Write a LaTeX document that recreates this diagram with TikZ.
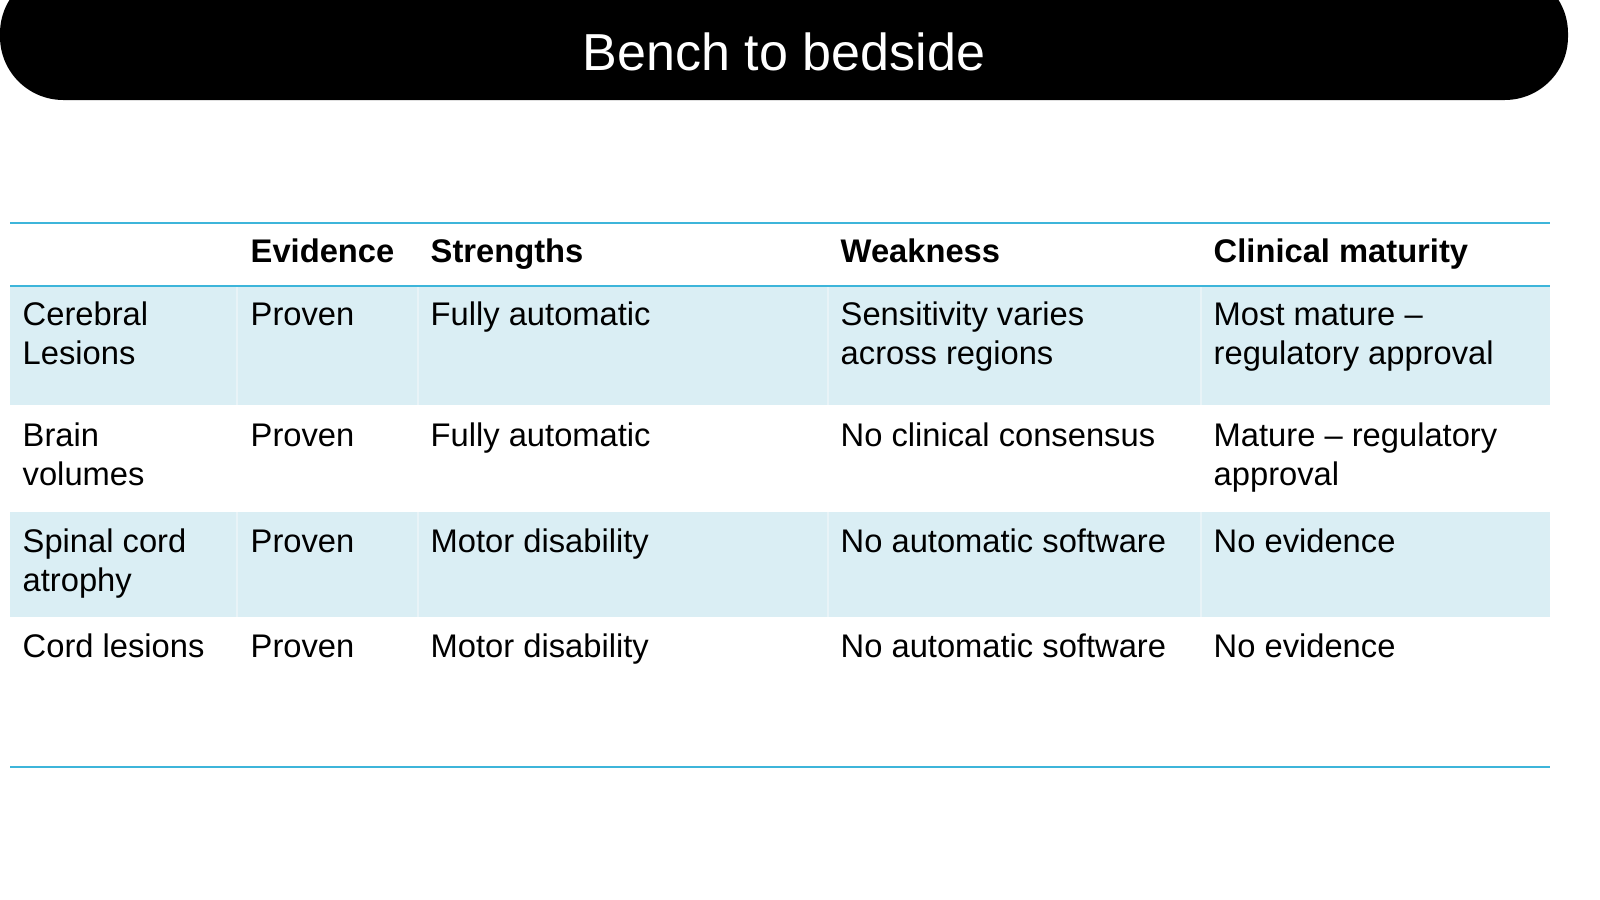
\documentclass[tikz,border=0pt]{standalone}
\usepackage{fontspec}
\setmainfont{Liberation Sans}
\definecolor{rule}{HTML}{3DB5DA}
\definecolor{band}{HTML}{DAEEF4}
\definecolor{sep}{HTML}{E8F3F7}
\newcommand{\twolines}[2]{\begin{tabular}[t]{@{}l@{}}#1\\#2\end{tabular}}
\tikzset{
  cell/.style={anchor=base west, inner sep=0pt, font=\fontsize{9.3}{11.3}\selectfont},
  head/.style={cell, font=\fontsize{9.3}{11.3}\selectfont\bfseries}
}
\begin{document}
\begin{tikzpicture}[x=0.01cm, y=-0.01cm]
	\useasboundingbox (0,0) rectangle (1600,900);
	% title bar
	\begin{scope}
	\clip (0,0) rectangle (1600,900);
	\fill[black, rounded corners=18] (0,-30) rectangle (1568,100);
	\end{scope}
	\node[text=white, font=\fontsize{14.8}{18}\selectfont] (title) at (784,52) {Bench to bedside};
	% bands
	\fill[band] (10,286) rectangle (1550,405);
	\fill[band] (10,512) rectangle (1550,617);
	\foreach \x in {237,418,828,1201}
		\draw[sep] (\x,286) -- (\x,405) (\x,512) -- (\x,617);
	% rules
	\draw[rule] (10,223) -- (1550,223);
	\draw[rule] (10,286) -- (1550,286);
	\draw[rule] (10,767) -- (1550,767);
	% header
	\node[head] (hev) at (250,262) {Evidence};
	\node[head] (hst) at (430,262) {Strengths};
	\node[head] (hwe) at (840,262) {Weakness};
	\node[head] (hcm) at (1213,262) {Clinical maturity};
	% row 1
	\node[cell] (ra) at (22,325) {\twolines{Cerebral}{Lesions}};
	\node[cell] (rae) at (250,325) {Proven};
	\node[cell] (ras) at (430,325) {Fully automatic};
	\node[cell] (raw) at (840,325) {\twolines{Sensitivity varies}{across regions}};
	\node[cell] (rac) at (1213,325) {\twolines{Most mature --}{regulatory approval}};
	% row 2
	\node[cell] (rb) at (22,446) {\twolines{Brain}{volumes}};
	\node[cell] (rbe) at (250,446) {Proven};
	\node[cell] (rbs) at (430,446) {Fully automatic};
	\node[cell] (rbw) at (840,446) {No clinical consensus};
	\node[cell] (rbc) at (1213,446) {\twolines{Mature -- regulatory}{approval}};
	% row 3
	\node[cell] (rc) at (22,552) {\twolines{Spinal cord}{atrophy}};
	\node[cell] (rce) at (250,552) {Proven};
	\node[cell] (rcs) at (430,552) {Motor disability};
	\node[cell] (rcw) at (840,552) {No automatic software};
	\node[cell] (rcc) at (1213,552) {No evidence};
	% row 4
	\node[cell] (rd) at (22,657) {Cord lesions};
	\node[cell] (rde) at (250,657) {Proven};
	\node[cell] (rds) at (430,657) {Motor disability};
	\node[cell] (rdw) at (840,657) {No automatic software};
	\node[cell] (rdc) at (1213,657) {No evidence};
\end{tikzpicture}
\end{document}
